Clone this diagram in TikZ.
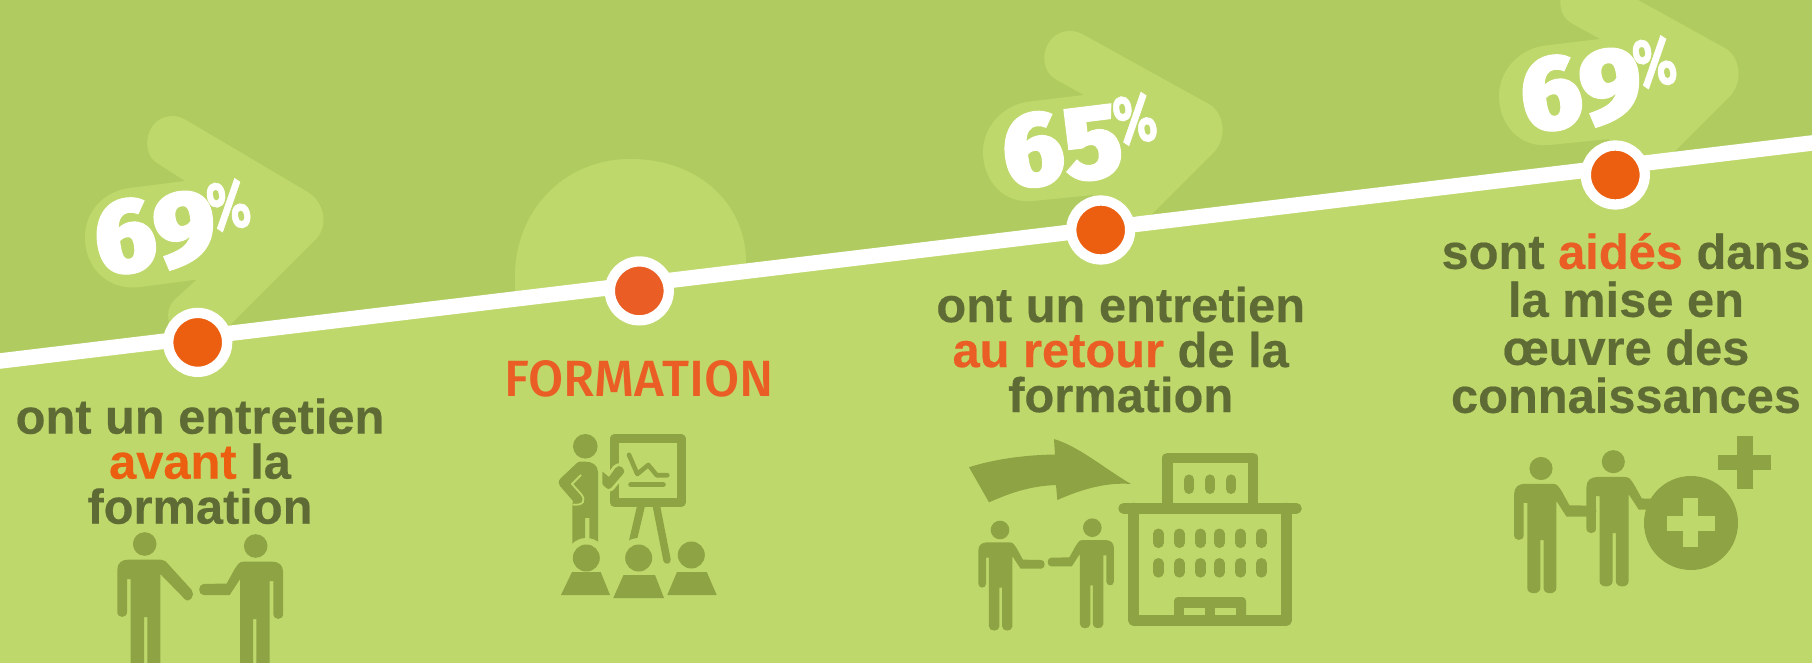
\documentclass[tikz,border=0pt]{standalone}
\usepackage{fontspec}
\setmainfont{Liberation Sans}[BoldFeatures={FakeBold=0.35}]
\newfontfamily\numfont{Fira Sans Black}[FakeBold=1]
\newfontfamily\pctfont{Fira Sans}[BoldFeatures={FakeBold=1}]
\newfontfamily\titlefont{Fira Sans Medium}
\definecolor{topbg}{HTML}{B0CC60}
\definecolor{lowbg}{HTML}{BFD86B}
\definecolor{iconc}{HTML}{8DA344}
\definecolor{textc}{HTML}{5E6B35}
\definecolor{orangeA}{HTML}{EC5F11}
\definecolor{orangeB}{HTML}{EA5E25}
\tikzset{
  dotnode/.style={circle,draw=white,line width=10.3pt,minimum size=58.9pt,inner sep=0pt,outer sep=0pt},
  captionA/.style={anchor=north,align=center,inner sep=0pt,text=textc,font=\fontsize{48.8}{45}\selectfont\bfseries},
  captionB/.style={anchor=north,align=center,inner sep=0pt,text=textc,font=\fontsize{48.8}{48}\selectfont\bfseries},
  bignum/.style={white,rotate=7,inner sep=0pt,font=\fontsize{106}{106}\selectfont\numfont},
  iconfill/.style={fill=iconc,draw=none},
  iconline/.style={draw=iconc,line cap=round,line join=round},
  halo/.style={fill=lowbg,draw=none},
  bandarrow/.style={fill=lowbg,draw=none}
}
\newcommand{\pct}{\kern-6pt\raisebox{31pt}{\fontsize{68}{68}\selectfont\pctfont\bfseries\scalebox{0.74}[1]{\%}}}
% person: x, y, scale, mirror, arm path
\newcommand{\personicon}[5]{%
  \begin{scope}[shift={(#1,#2)},xscale=#3*#4,yscale=#3]
    \fill[iconfill] (0,0) circle [radius=11.8];
    \fill[iconfill] (-14,122) -- (-14,35) -- (-17.7,35) -- (-17.7,68)
      .. controls (-17.7,74.5) and (-27.4,74.5) .. (-27.4,68) -- (-27.4,26)
      .. controls (-27.4,19) and (-23,15.6) .. (-16,15.6) -- (12,15.6) #5
      -- (15.6,122) .. controls (15.6,129) and (2.6,129) .. (2.6,122) -- (2.6,73) -- (-0.7,73) -- (-0.7,122)
      .. controls (-0.7,129) and (-14,129) .. (-14,122) -- cycle;
  \end{scope}}
\newcommand{\personbent}[4]{\personicon{#1}{#2}{#3}{#4}{.. controls (17,15.6) and (18,19) .. (21,23) -- (29,37.5) -- (52,38) .. controls (58,38) and (58,49) .. (52,49) -- (26,49) -- (15.6,33)}}
\newcommand{\personstraight}[4]{\personicon{#1}{#2}{#3}{#4}{.. controls (16,15.6) and (19,15.6) .. (21,17.4) -- (47,46) .. controls (51,51) and (45,60) .. (40,55) -- (15.6,30)}}
\newcommand{\pill}[2]{\draw[iconline,line width=10.4pt] (#1,#2) -- ++(0,9.2);}
\begin{document}
\begin{tikzpicture}[x=1pt,y=-1pt]
\useasboundingbox (0,0) rectangle (1812,663);
\fill[topbg] (0,0) rectangle (1812,663);
% arrows behind the band
\path[bandarrow] (130,188) -- (185,181) -- (157,163) .. controls (140,153) and (145,116) .. (173,116)
  .. controls (178,116) and (182,118) .. (186,120) -- (307,191.6) .. controls (325,202) and (330,228) .. (313,242)
  -- (225,330) -- (172,330) .. controls (165,315) and (168,305) .. (177,297.5) -- (197,279.5) -- (140,287)
  .. controls (105,291) and (85,265) .. (85,238) .. controls (85,210) and (105,191) .. (130,188) -- cycle;
\path[bandarrow] (1030,101.5) -- (1084,95) -- (1057,80) .. controls (1035,69) and (1043,31) .. (1070,31)
  .. controls (1076,31) and (1080,33) .. (1084,35) -- (1208,103.6) .. controls (1225,112) and (1228,140) .. (1212,154)
  -- (1150,216) -- (1100,216) -- (1093,195) -- (1033,201) .. controls (1003,204) and (983,180) .. (983,152)
  .. controls (983,125) and (1005,104) .. (1030,101.5) -- cycle;
\begin{scope}[shift={(516,-56)}]
\path[bandarrow] (1030,101.5) -- (1084,95) -- (1057,80) .. controls (1035,69) and (1043,31) .. (1070,31)
  .. controls (1076,31) and (1080,33) .. (1084,35) -- (1208,103.6) .. controls (1225,112) and (1228,140) .. (1212,154)
  -- (1150,216) -- (1100,216) -- (1093,195) -- (1033,201) .. controls (1003,204) and (983,180) .. (983,152)
  .. controls (983,125) and (1005,104) .. (1030,101.5) -- cycle;
\end{scope}
\path[bandarrow] (515,310) -- (515,276) .. controls (515,210) and (565,159) .. (630,159)
  .. controls (700,159) and (746,205) .. (746,262) -- (746,290) -- cycle;
% lower field and band
\coordinate (bandL) at (-20,363.4);
\coordinate (bandR) at (1832,140.6);
\fill[lowbg] (bandL) -- (bandR) -- (1832,663) -- (-20,663) -- cycle;
\draw[white,line width=15.5pt] (bandL) -- (bandR);
% milestones
\node[dotnode,fill=orangeA] (m1) at (197.7,342.4) {};
\node[dotnode,fill=orangeB] (m2) at (639.3,290.9) {};
\node[dotnode,fill=orangeA] (m3) at (1100.7,230) {};
\node[dotnode,fill=orangeA] (m4) at (1615.3,175) {};
% percentages
\node[bignum] (p1) at (173,228) {69\pct};
\node[bignum] (p3) at (1080,141) {65\pct};
\node[bignum] (p4) at (1599,85) {69\pct};
% captions
\node[captionA] (c1) at (200,398.1) {\rule{0pt}{31.5pt}ont un entretien\\{\color{orangeA}avant} la\\formation};
\node[captionA] (c3) at (1120.7,286.5) {\rule{0pt}{31.5pt}ont un entretien\\{\color{orangeB}au retour} de la\\formation};
\node[captionB] (c4) at (1626,232.8) {\rule{0pt}{33.6pt}sont {\color{orangeB}aidés} dans\\la mise en\\œuvre des\\connaissances};
\node[anchor=base,inner sep=0pt,text=orangeB,font=\fontsize{51}{51}\selectfont\titlefont] (t2) at (639,396) {FORMATION};
% icon 1
\personstraight{144.7}{544}{1}{1}
\personbent{255.7}{546}{1}{-1}
% icon 2: presenter, board, audience
\fill[iconfill] (585.3,446.3) circle [radius=12.3];
\fill[iconfill] (598,545) -- (598,472) .. controls (598,465) and (592,461.6) .. (585,461.6) -- (581,461.6)
  .. controls (579,461.6) and (578,462) .. (577,463) -- (561,478) .. controls (558,481) and (558,484) .. (560,486)
  -- (573,501) -- (572.3,504) -- (572.3,545) -- (585,545) -- (585,517.8) -- (589.3,517.8) -- (589.3,545) -- cycle;
\draw[lowbg,line width=1.8pt] (581,475) -- (572,484) -- (581,494) .. controls (586,500) and (584,506) .. (572.3,504.5);
\draw[iconline,line width=9pt] (614,438.9) -- (681.2,438.9) -- (681.2,502) -- (614,502) -- cycle;
\draw[iconline,line width=4.6pt] (629,454.8) -- (637.3,474) -- (648.3,465) -- (656.7,475.2) -- (667.3,475.2);
\draw[iconline,line width=5pt] (630.7,484.8) -- (663.3,484.8);
\fill[iconfill] (637,506) -- (645,506) -- (637,540) -- (628,545) -- cycle;
\draw[iconline,line width=7.5pt] (655.8,503) -- (667,560);
\path[draw=lowbg,line width=6pt,fill=iconc,line join=round] (602.3,471.5) -- (609,477) -- (615.5,468) .. controls (619,463) and (627,469) .. (623,474) -- (611,488) .. controls (609,490) and (607,489) .. (605,487) -- (602.3,484) -- cycle;
\fill[iconfill] (602.3,471.5) -- (609,477) -- (615.5,468) .. controls (619,463) and (627,469) .. (623,474) -- (611,488) .. controls (609,490) and (607,489) .. (605,487) -- (602.3,484) -- cycle;
\fill[halo] (586.3,558) circle [radius=20];
\fill[halo] (638.7,558) circle [radius=20];
\fill[iconfill] (586.3,558) circle [radius=13.5];
\fill[iconfill] (638.7,558) circle [radius=13.5];
\fill[iconfill] (691.3,555) circle [radius=13.5];
\fill[iconfill] (561,595) -- (572,572) -- (600.7,572) -- (610,595) -- cycle;
\fill[iconfill] (613.3,598) -- (623.5,575) -- (655,575) -- (664,598) -- cycle;
\fill[iconfill] (667.3,595) -- (677,572) -- (706.7,572) -- (716.7,595) -- cycle;
% icon 3: arrow, people, building
\fill[iconfill] (969,467.2) .. controls (995,459) and (1025,455) .. (1055,454.5) -- (1054,439)
  .. controls (1080,447) and (1105,469) .. (1131,484) .. controls (1105,482) and (1080,490) .. (1057.3,500)
  -- (1056,485) .. controls (1030,486) and (1010,493) .. (989,502.3) -- cycle;
\personbent{1000}{530}{0.79}{1}
\personbent{1092.3}{527.7}{0.79}{-1}
\draw[iconline,line width=10.4pt] (1167.5,508) -- (1167.5,457.7) -- (1252.7,457.7) -- (1252.7,508);
\draw[iconline,line width=10.7pt] (1123.6,508.4) -- (1296.4,508.4);
\draw[iconline,line width=10.6pt] (1133.7,508) -- (1133.7,620.4) -- (1286.3,620.4) -- (1286.3,508);
\foreach \px in {1189,1210,1231} {\pill{\px}{479.6}}
\foreach \px in {1158.3,1179.3,1200.3,1219.3,1240.3,1261.3} {\pill{\px}{533.7}\pill{\px}{563.2}}
\fill[iconfill,rounded corners=4pt] (1174,620) -- (1174,597) -- (1246,597) -- (1246,620) -- cycle;
\fill[lowbg] (1184,607.6) rectangle (1205,615);
\fill[lowbg] (1215,607.6) rectangle (1236,615);
% icon 4: two people, plus signs
\personbent{1541}{468.5}{0.98}{1}
\personbent{1613.3}{461.7}{0.98}{1}
\fill[iconfill] (1691,523) circle [radius=47];
\fill[lowbg] (1683.3,498) rectangle (1698.3,546.7);
\fill[lowbg] (1666.7,516) rectangle (1715,530.6);
\fill[iconfill] (1736.7,436) rectangle (1752.7,489);
\fill[iconfill] (1717.7,454.5) rectangle (1771,470);
\end{tikzpicture}
\end{document}
